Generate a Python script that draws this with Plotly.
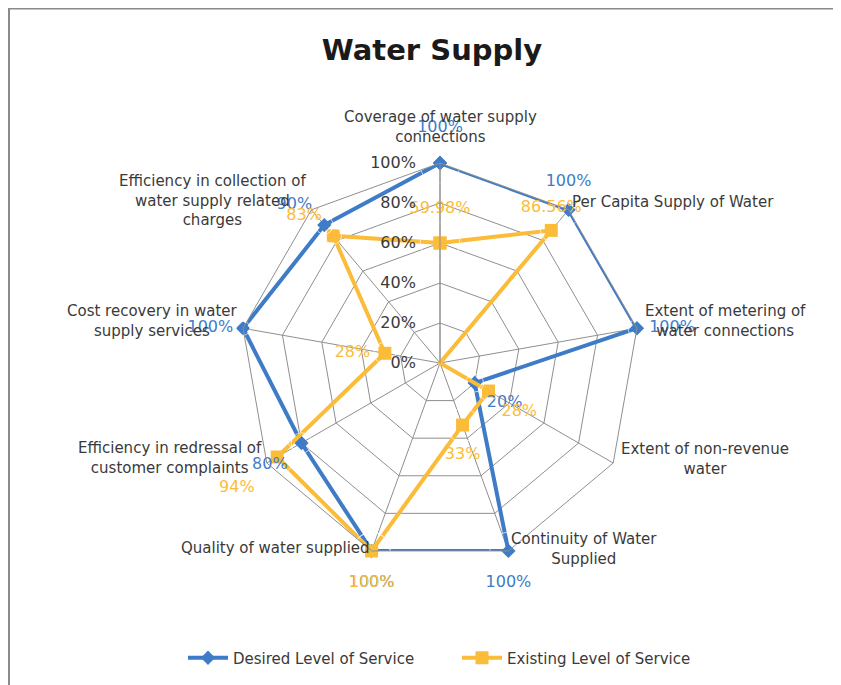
import plotly.graph_objects as go

# ---- data ----
categories = [
    "Coverage of water supply<br>connections",
    "Per Capita Supply of Water",
    "Extent of metering of<br>water connections",
    "Extent of non-revenue<br>water",
    "Continuity of Water<br>Supplied",
    "Quality of water supplied",
    "Efficiency in redressal of<br>customer complaints",
    "Cost recovery in water<br>supply services",
    "Efficiency in collection of<br>water supply related<br>charges",
]
desired = [100, 100, 100, 20, 100, 100, 80, 100, 90]
existing = [59.98, 86.56, 0, 28, 33, 100, 94, 28, 83]
radial_ticks = [0, 20, 40, 60, 80, 100]
radial_tick_labels = ["0%", "20%", "40%", "60%", "80%", "100%"]
series_names = ["Desired Level of Service", "Existing Level of Service"]

# ---- styles ----
BLUE = "#3e7cc8"
YELLOW = "#fbbc3a"
GRID = "#8f8f8f"
TEXT = "#3a3a3a"
FONT = "DejaVu Sans"

# label placement (position + offset distance in px)
blue_pos = ["top center", "top center", "middle right", "bottom right", "bottom center",
            "bottom center", "bottom left", "middle left", "top left"]
blue_off = [33, 24, 15, 15, 30, 30, 17, 12, 15]
yel_pos = ["top center", "top center", "middle right", "bottom right", "bottom center",
           "bottom center", "bottom left", "middle left", "top left"]
yel_off = [32, 18, 27, 16, 27, 30, 28, 18, 14]

# category label centres (screen px)
cat_xy = [(440, 127), (673, 202), (725, 321), (705, 459), (584, 549),
          (275, 548), (170, 458), (152, 321), (212, 200)]

# page body margin offset
OX, OY = 8, 8
W, H = 833, 677
cx, cy, R = 440 - OX, 363 - OY, 200

def px(x):
    return (x - OX) / W

def py(y):
    return 1 - (y - OY) / H

def sz(offs):
    return [1.28 * (o - 1) for o in offs]

def fmt(v):
    return f"{v:g}%"

fig = go.Figure()
fig.add_trace(go.Scatterpolar(
    r=desired + desired[:1], theta=categories + categories[:1], name=series_names[0],
    mode="lines+markers", line=dict(color=BLUE, width=4),
    marker=dict(symbol="diamond", size=11, color=BLUE)))
fig.add_trace(go.Scatterpolar(
    r=existing + existing[:1], theta=categories + categories[:1], name=series_names[1],
    mode="lines+markers", line=dict(color=YELLOW, width=4),
    marker=dict(symbol="square", size=13, color=YELLOW)))
fig.add_trace(go.Scatterpolar(
    r=desired, theta=categories, mode="markers+text", text=[fmt(v) for v in desired],
    textposition=blue_pos, textfont=dict(color=BLUE, size=16, family=FONT),
    marker=dict(size=sz(blue_off), color="rgba(0,0,0,0)"),
    cliponaxis=False, showlegend=False, hoverinfo="skip"))
fig.add_trace(go.Scatterpolar(
    r=existing, theta=categories, mode="markers+text", text=[fmt(v) for v in existing],
    textposition=yel_pos, textfont=dict(color=YELLOW, size=16, family=FONT),
    marker=dict(size=sz(yel_off), color="rgba(0,0,0,0)"),
    cliponaxis=False, showlegend=False, hoverinfo="skip"))

annotations = []
for lab, (x, y) in zip(categories, cat_xy):
    annotations.append(dict(
        text=lab, x=px(x), y=py(y), xref="paper", yref="paper",
        xanchor="center", yanchor="middle", showarrow=False, align="center",
        font=dict(size=15, color=TEXT, family=FONT)))

fig.update_layout(
    width=W, height=H,
    margin=dict(l=0, r=0, t=0, b=0),
    paper_bgcolor="white", plot_bgcolor="white",
    font=dict(family=FONT, color=TEXT),
    title=dict(text="Water Supply", x=px(432), y=py(50), xanchor="center", yanchor="middle",
               font=dict(size=29, color="#1a1a1a", family=FONT, weight="bold")),
    polar=dict(
        domain=dict(x=[(cx - R) / W, (cx + R) / W], y=[(H - cy - R) / H, (H - cy + R) / H]),
        bgcolor="white",
        gridshape="linear",
        angularaxis=dict(direction="clockwise", rotation=90, showticklabels=False,
                         ticks="", gridcolor=GRID, gridwidth=1, linecolor=GRID,
                         linewidth=1, showline=True),
        radialaxis=dict(range=[0, 100], tickmode="array", tickvals=radial_ticks,
                        ticktext=radial_tick_labels,
                        angle=90, side="counterclockwise", tickangle=90,
                        showline=True, linecolor=GRID, gridcolor=GRID, gridwidth=1,
                        ticks="outside", ticklen=18, tickcolor="rgba(0,0,0,0)",
                        tickfont=dict(size=16, color=TEXT, family=FONT)),
    ),
    legend=dict(orientation="h", x=px(183), xanchor="left", y=py(658), yanchor="middle",
                font=dict(size=15, color=TEXT, family=FONT), itemwidth=40,
                entrywidth=219, entrywidthmode="pixels"),
    annotations=annotations,
    shapes=[dict(type="rect", xref="paper", yref="paper", x0=px(9), x1=1.02,
                 y0=-0.02, y1=1 - 0.5 / H, line=dict(color="#8a8a8a", width=2))],
)

fig.write_html("out.html")
